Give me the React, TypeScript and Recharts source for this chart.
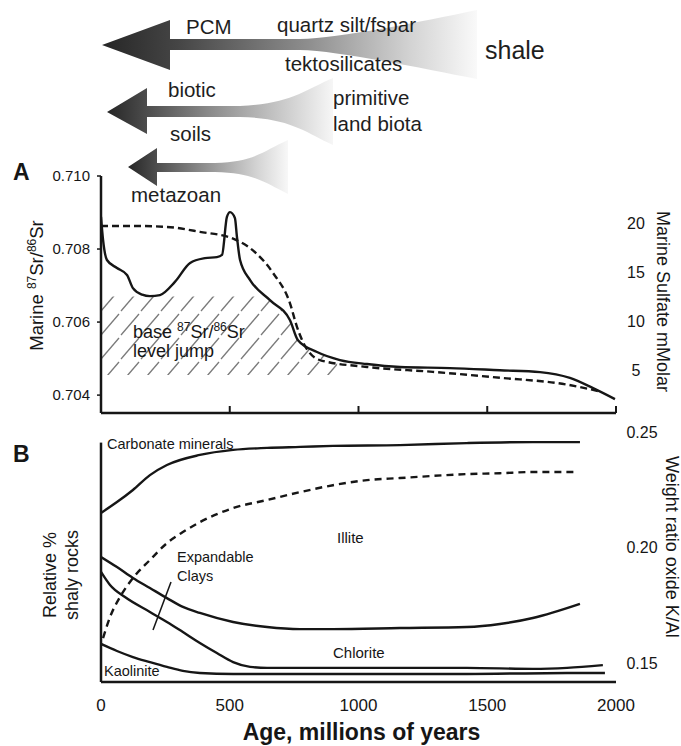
import React from "react";
import { ComposedChart, Line, Area, XAxis, YAxis, Label, ReferenceLine } from "recharts";

// panel A - marine 87Sr/86Sr (left axis)
const srAge = [0, 8, 23, 62, 101, 124, 160, 190, 229, 287, 346, 404, 450, 470, 489, 501, 520, 528, 540, 579, 656, 734, 765, 839, 928, 1033, 1161, 1355, 1549, 1705, 1821, 1911, 1996];
const srRatio = [0.70888, 0.70825, 0.7077, 0.70748, 0.70729, 0.70693, 0.70675, 0.70671, 0.70674, 0.7071, 0.70762, 0.70775, 0.70778, 0.70784, 0.70888, 0.70901, 0.70885, 0.70833, 0.7077, 0.70715, 0.7066, 0.70605, 0.7055, 0.70518, 0.70496, 0.70485, 0.70477, 0.70474, 0.70468, 0.70463, 0.70447, 0.70419, 0.70389];

// panel A - marine sulfate mMolar (right axis)
const so4Age = [0, 124, 256, 384, 513, 590, 668, 734, 761, 780, 850, 1033, 1289, 1549, 1810, 1938];
const so4Mm = [19.7, 19.7, 19.6, 19.1, 18.4, 17.2, 14.9, 11.8, 9.4, 8.1, 6.0, 5.3, 4.8, 4.2, 3.5, 2.8];

// hatched "base level jump" band
const jumpAge = [0, 190, 600, 656, 734, 765, 839, 917];
const jumpTop = [0.7067, 0.7067, 0.7067, 0.7066, 0.70605, 0.7055, 0.70518, 0.70498];
const jumpBase = 0.70455;

// panel B - relative % shaly rocks (left, unlabelled 0-100)
const carbAge = [0, 62, 124, 190, 256, 384, 513, 645, 773, 901, 1161, 1421, 1677, 1860];
const carbPct = [67.1, 71.4, 76.2, 82.1, 86.1, 90.1, 92.1, 92.9, 93.3, 93.7, 94.0, 94.8, 95.2, 95.2];
const illAge = [0, 62, 124, 190, 256, 318, 384, 513, 645, 773, 901, 1161, 1421, 1549, 1677, 1860];
const illPct = [49.6, 45.6, 41.3, 37.3, 33.3, 29.8, 27.4, 23.8, 21.8, 21.0, 21.0, 21.4, 21.8, 23.0, 25.4, 31.0];
const chlAge = [0, 35, 93, 190, 256, 318, 384, 450, 513, 579, 645, 901, 1421, 1677, 1810, 1949];
const chlPct = [43.7, 38.5, 33.7, 27.8, 23.8, 19.8, 15.5, 11.5, 7.9, 6.0, 5.6, 5.6, 5.6, 5.2, 5.6, 6.7];
const kaoAge = [0, 62, 124, 190, 256, 318, 384, 513, 773, 1421, 1810, 1957];
const kaoPct = [15.1, 12.3, 9.9, 7.9, 6.0, 4.4, 3.6, 3.2, 3.2, 3.2, 3.6, 3.6];

// panel B - weight ratio oxide K/Al (right axis, dashed)
const kalAge = [8, 35, 74, 124, 190, 256, 318, 384, 513, 645, 773, 901, 1033, 1161, 1421, 1549, 1677, 1848];
const kalRatio = [0.1608, 0.1699, 0.1786, 0.1868, 0.1946, 0.2019, 0.2067, 0.211, 0.2171, 0.2206, 0.224, 0.227, 0.2292, 0.2301, 0.2318, 0.2322, 0.2327, 0.2327];

const ageTicks = [0, 500, 1000, 1500, 2000];
const srTicks = [0.704, 0.706, 0.708, 0.71];
const so4Ticks = [5, 10, 15, 20];
const kalTicks = [0.15, 0.2, 0.25];

const rows = (xs: number[], ys: any[]) => xs.map((age, i) => ({ age, v: ys[i] }));

const FONT = "'Liberation Sans', Arial, Helvetica, sans-serif";
const INK = "#161616";

function SrTitle(props: any) {
  const vb = props.viewBox;
  const cx = vb.x + 16;
  const cy = vb.y + vb.height / 2 - 9;
  return (
    <text transform={`rotate(-90 ${cx} ${cy})`} x={cx} y={cy + 6} textAnchor="middle" fontSize={18.5} fill={INK} fontFamily={FONT}>
      Marine <tspan dy={-7} fontSize={12}>87</tspan>
      <tspan dy={7}>Sr/</tspan>
      <tspan dy={-7} fontSize={12}>86</tspan>
      <tspan dy={7}>Sr</tspan>
    </text>
  );
}

function So4Title(props: any) {
  const vb = props.viewBox;
  const cx = vb.x + 47;
  const cy = vb.y + vb.height / 2 + 7;
  return (
    <text transform={`rotate(90 ${cx} ${cy})`} x={cx} y={cy + 6} textAnchor="middle" fontSize={18} fill={INK} fontFamily={FONT}>
      Marine Sulfate mMolar
    </text>
  );
}

function RelTitle(props: any) {
  const vb = props.viewBox;
  const cx = vb.x + 40;
  const cy = vb.y + vb.height / 2 + 19;
  return (
    <text transform={`rotate(-90 ${cx} ${cy})`} x={cx} y={cy - 5} textAnchor="middle" fontSize={18} fill={INK} fontFamily={FONT}>
      <tspan x={cx}>Relative %</tspan>
      <tspan x={cx} dy={22}>shaly rocks</tspan>
    </text>
  );
}

function KalTitle(props: any) {
  const vb = props.viewBox;
  const cx = vb.x + 56;
  const cy = vb.y + vb.height / 2 - 9;
  return (
    <text transform={`rotate(90 ${cx} ${cy})`} x={cx} y={cy + 6} textAnchor="middle" fontSize={18} fill={INK} fontFamily={FONT}>
      Weight ratio oxide K/Al
    </text>
  );
}

function AgeTitle(props: any) {
  const vb = props.viewBox;
  return (
    <text x={vb.x + vb.width / 2 + 3} y={vb.y + 58} textAnchor="middle" fontSize={23} fontWeight="bold" fill={INK} fontFamily={FONT}>
      Age, millions of years
    </text>
  );
}

function Arrows() {
  return (
    <svg width={681} height={746} style={{ position: "absolute", left: 0, top: 0, pointerEvents: "none" }} fontFamily={FONT}>
      <defs>
        <linearGradient id="ar1" gradientUnits="userSpaceOnUse" x1={102} y1={0} x2={480} y2={0}>
          <stop offset="0" stopColor="#262626" />
          <stop offset="0.2" stopColor="#454545" />
          <stop offset="0.55" stopColor="#8f8f8f" />
          <stop offset="0.82" stopColor="#d4d4d4" />
          <stop offset="1" stopColor="#fbfbfb" />
        </linearGradient>
        <linearGradient id="ar2" gradientUnits="userSpaceOnUse" x1={107} y1={0} x2={335} y2={0}>
          <stop offset="0" stopColor="#262626" />
          <stop offset="0.45" stopColor="#8a8a8a" />
          <stop offset="0.8" stopColor="#d0d0d0" />
          <stop offset="1" stopColor="#f8f8f8" />
        </linearGradient>
        <linearGradient id="ar3" gradientUnits="userSpaceOnUse" x1={128} y1={0} x2={290} y2={0}>
          <stop offset="0" stopColor="#262626" />
          <stop offset="0.45" stopColor="#8a8a8a" />
          <stop offset="0.8" stopColor="#d4d4d4" />
          <stop offset="1" stopColor="#fafafa" />
        </linearGradient>
      </defs>
      <path d="M102,45 L170,20 L170,39 L300,39 C340,38 420,22 477,10 L477,79 C420,68 340,51 300,50 L170,50 L170,70 Z" fill="url(#ar1)" />
      <path d="M107,112 L147,88 L147,106 L240,106 C290,104 305,90 333,78 L333,145 C305,132 290,118 240,117 L147,117 L147,134 Z" fill="url(#ar2)" />
      <path d="M128,167 L157,148 L157,163 L215,163 C255,162 265,150 288,140 L288,194 C265,183 255,173 215,172 L157,172 L157,186 Z" fill="url(#ar3)" />

      <g fill="#1e1e1e" fontSize={20.5}>
        <text x={186} y={34}>PCM</text>
        <text x={277} y={32}>quartz silt/fspar</text>
        <text x={285} y={71}>tektosilicates</text>
        <text x={485} y={59} fontSize={25}>shale</text>
        <text x={168} y={97}>biotic</text>
        <text x={170} y={141}>soils</text>
        <text x={333} y={105}>primitive</text>
        <text x={333} y={131}>land biota</text>
        <text x={131} y={202}>metazoan</text>
      </g>

      <text x={13} y={180} fontSize={23} fontWeight="bold" fill={INK}>A</text>
      <text x={13} y={462} fontSize={23} fontWeight="bold" fill={INK}>B</text>

      <text x={133} y={338} fontSize={18} fill={INK}>
        base <tspan dy={-7} fontSize={12}>87</tspan>
        <tspan dy={7}>Sr/</tspan>
        <tspan dy={-7} fontSize={12}>86</tspan>
        <tspan dy={7}>Sr</tspan>
      </text>
      <text x={133} y={357} fontSize={18} fill={INK}>level jump</text>

      <g fill={INK} fontSize={14.5}>
        <text x={107} y={449}>Carbonate minerals</text>
        <text x={337} y={543} fontSize={15}>Illite</text>
        <text x={177} y={562}>Expandable</text>
        <text x={177} y={581}>Clays</text>
        <text x={333} y={658} fontSize={15}>Chlorite</text>
        <text x={104} y={676}>Kaolinite</text>
      </g>
      <line x1={153} y1={630} x2={171} y2={582} stroke={INK} strokeWidth={1.5} />
    </svg>
  );
}

export default function App() {
  const srData = rows(srAge, srRatio);
  const so4Data = rows(so4Age, so4Mm);
  const jumpData = rows(jumpAge, jumpTop.map((t) => [jumpBase, t]));
  const axisLine = { stroke: INK, strokeWidth: 2.5 };

  return (
    <div style={{ position: "absolute", left: 0, top: 0, width: 681, height: 746, background: "#fff", fontFamily: FONT }}>
      <div style={{ position: "absolute", left: 0, top: 0 }}>
        <ComposedChart width={681} height={420} margin={{ top: 176, right: 15, bottom: 5, left: 21 }}>
          <defs>
            <pattern id="hatch" patternUnits="userSpaceOnUse" width={20} height={24}>
              <line x1={1} y1={23} x2={19} y2={2} stroke="#7a7a7a" strokeWidth={1.3} />
            </pattern>
          </defs>
          <XAxis
            type="number"
            dataKey="age"
            domain={[0, 2000]}
            ticks={ageTicks}
            allowDataOverflow
            height={2}
            tickSize={-7}
            tickFormatter={() => ""}
            axisLine={axisLine}
            tickLine={{ stroke: INK, strokeWidth: 2 }}
          />
          <YAxis
            yAxisId="sr"
            type="number"
            domain={[0.70351, 0.71]}
            ticks={srTicks}
            allowDataOverflow
            width={80}
            tickSize={4}
            tickMargin={7}
            tickFormatter={(v: number) => v.toFixed(3)}
            axisLine={axisLine}
            tickLine={{ stroke: INK, strokeWidth: 1.5 }}
            tick={{ fill: INK, fontSize: 15, fontFamily: FONT }}
          >
            <Label content={SrTitle} />
          </YAxis>
          <YAxis
            yAxisId="so4"
            orientation="right"
            type="number"
            domain={[0.6, 24.8]}
            ticks={so4Ticks}
            allowDataOverflow
            width={50}
            axisLine={false}
            tickLine={false}
            tickSize={0}
            tickMargin={20}
            tick={{ fill: INK, fontSize: 16, fontFamily: FONT, textAnchor: "middle" }}
          >
            <Label content={So4Title} />
          </YAxis>
          <Area
            yAxisId="sr"
            data={jumpData}
            dataKey="v"
            type="monotone"
            fill="url(#hatch)"
            fillOpacity={1}
            stroke="none"
            isAnimationActive={false}
          />
          <Line yAxisId="so4" data={so4Data} dataKey="v" type="monotone" stroke={INK} strokeWidth={2.4} strokeDasharray="7 4" dot={false} isAnimationActive={false} />
          <Line yAxisId="sr" data={srData} dataKey="v" type="monotone" stroke={INK} strokeWidth={2.4} dot={false} isAnimationActive={false} />
        </ComposedChart>
      </div>

      <div style={{ position: "absolute", left: 0, top: 420 }}>
        <ComposedChart width={681} height={326} margin={{ top: 10, right: 15, bottom: 0, left: 21 }}>
          <XAxis
            type="number"
            dataKey="age"
            domain={[0, 2000]}
            ticks={ageTicks}
            allowDataOverflow
            height={64}
            tickLine={false}
            tickSize={0}
            tickMargin={17}
            axisLine={axisLine}
            tick={{ fill: INK, fontSize: 17, fontFamily: FONT }}
          >
            <Label content={AgeTitle} />
          </XAxis>
          <YAxis yAxisId="rel" type="number" domain={[0, 100]} allowDataOverflow width={80} axisLine={false} tickLine={false} tick={false}>
            <Label content={RelTitle} />
          </YAxis>
          <YAxis
            yAxisId="kal"
            orientation="right"
            type="number"
            domain={[0.1418, 0.2509]}
            ticks={kalTicks}
            allowDataOverflow
            width={50}
            axisLine={false}
            tickLine={false}
            tickSize={0}
            tickMargin={26}
            tickFormatter={(v: number) => v.toFixed(2)}
            tick={{ fill: INK, fontSize: 16, fontFamily: FONT, textAnchor: "middle" }}
          >
            <Label content={KalTitle} />
          </YAxis>
          <ReferenceLine yAxisId="rel" segment={[{ x: 0, y: 0 }, { x: 0, y: 95 }]} stroke={INK} strokeWidth={2.5} />
          <Line yAxisId="kal" data={rows(kalAge, kalRatio)} dataKey="v" type="monotone" stroke={INK} strokeWidth={2.4} strokeDasharray="7 5" dot={false} isAnimationActive={false} />
          <Line yAxisId="rel" data={rows(carbAge, carbPct)} dataKey="v" type="monotone" stroke={INK} strokeWidth={2.4} dot={false} isAnimationActive={false} />
          <Line yAxisId="rel" data={rows(illAge, illPct)} dataKey="v" type="monotone" stroke={INK} strokeWidth={2.4} dot={false} isAnimationActive={false} />
          <Line yAxisId="rel" data={rows(chlAge, chlPct)} dataKey="v" type="monotone" stroke={INK} strokeWidth={2.4} dot={false} isAnimationActive={false} />
          <Line yAxisId="rel" data={rows(kaoAge, kaoPct)} dataKey="v" type="monotone" stroke={INK} strokeWidth={2.4} dot={false} isAnimationActive={false} />
        </ComposedChart>
      </div>

      <Arrows />
    </div>
  );
}
